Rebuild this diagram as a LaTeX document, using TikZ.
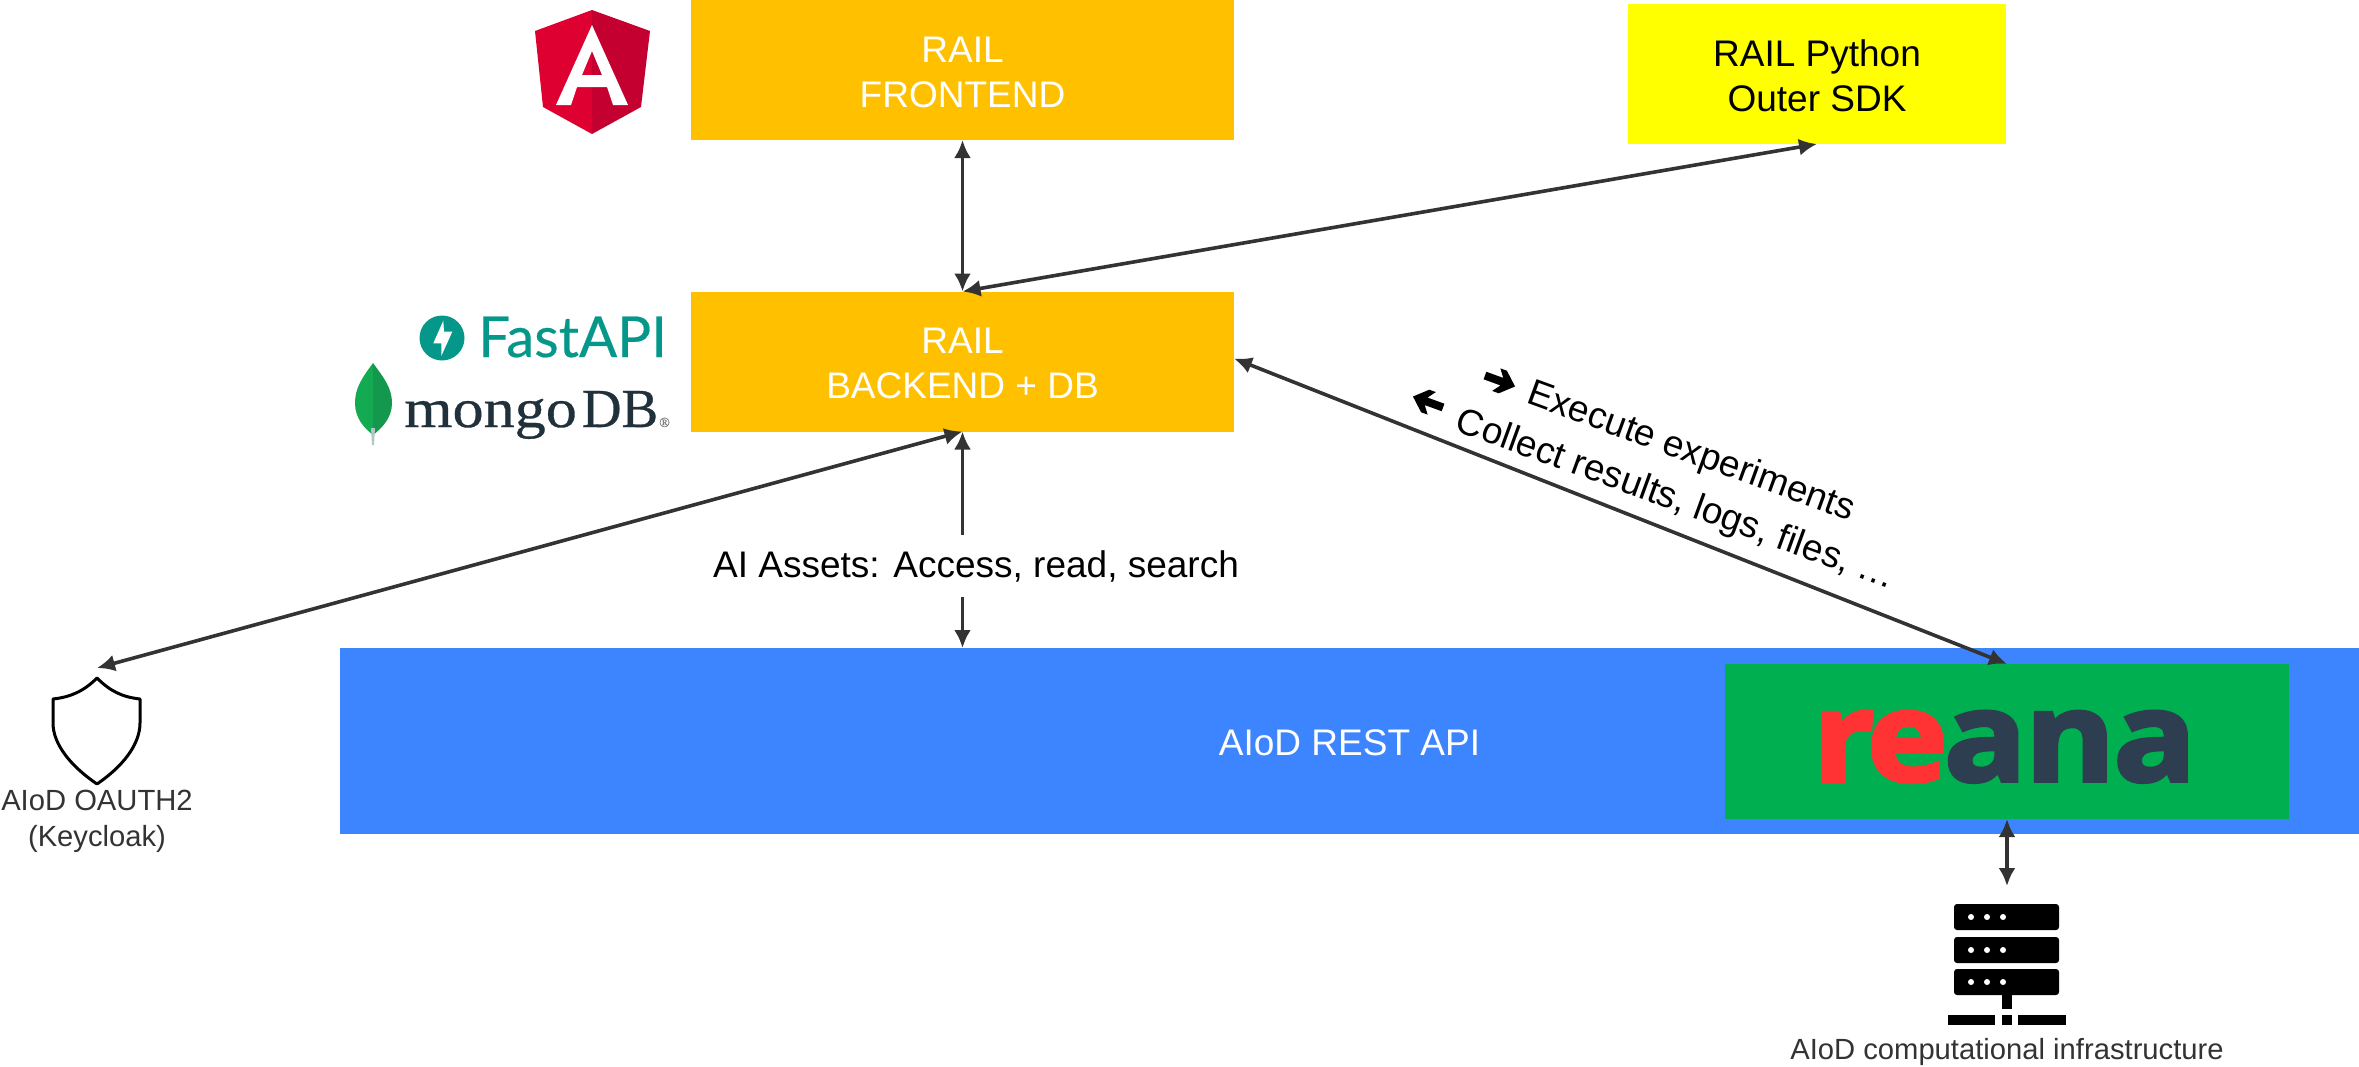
\documentclass[tikz,border=0pt]{standalone}
\usepackage{fontspec}
\setmainfont{Liberation Sans}
\newfontfamily\reanafont[FakeBold=3,FakeStretch=1.1]{Open Sans}
\newfontfamily\fastfont[FakeBold=0.4]{Lato}
\newfontfamily\mongofont[FakeBold=0.6]{Liberation Serif}
\newfontfamily\mongowide[FakeBold=0.6,FakeStretch=1.13]{Liberation Serif}
\usetikzlibrary{arrows.meta}
\definecolor{railorange}{HTML}{FFC000}
\definecolor{sdkyellow}{HTML}{FFFF00}
\definecolor{apiblue}{HTML}{3D85FF}
\definecolor{reanagreen}{HTML}{00AF50}
\definecolor{linegray}{HTML}{333333}
\definecolor{reanared}{HTML}{FF3333}
\definecolor{reanadark}{HTML}{2D3E50}
\definecolor{fastteal}{HTML}{05988A}
\definecolor{mongodark}{HTML}{21313C}
\newcommand{\dn}{\rule{0pt}{30pt}}
\tikzset{
  box/.style={rectangle,inner sep=0pt,outer sep=0pt,align=center,font=\fontsize{37}{45}\selectfont},
  orangebox/.style={box,fill=railorange,text=white,minimum width=543,minimum height=140},
  conn/.style={draw=linegray,line width=3.6pt,{Latex[length=18pt,width=17pt]}-{Latex[length=18pt,width=17pt]}},
  smalltext/.style={inner sep=0pt,align=center,text=linegray,font=\fontsize{29.2}{36}\selectfont},
  bigtext/.style={inner sep=0pt,align=center,text=black,font=\fontsize{37}{45}\selectfont},
  rack/.style={fill=black,rounded corners=3pt},
  hole/.style={fill=white}
}
\begin{document}
\begin{tikzpicture}[x=1pt,y=-1pt]
\useasboundingbox (0,0) rectangle (2359,1066);
% boxes
\node[orangebox] (frontend) at (962.5,70) {\dn RAIL\\FRONTEND};
\node[orangebox] (backend) at (962.5,361.5) {\dn RAIL\\BACKEND + DB};
\node[box,fill=sdkyellow,text=black,minimum width=378,minimum height=140] (sdk) at (1817,74) {\dn RAIL Python\\Outer SDK};
\node[box,fill=apiblue,text=white,minimum width=2019,minimum height=186] (api) at (1349.5,741) {\dn AIoD REST API};
\node[box,fill=reanagreen,minimum width=564,minimum height=155] (reana) at (2007,741.5) {};
% reana logo
\node[inner sep=0pt,anchor=base west,font=\reanafont\bfseries\fontsize{125}{125}\selectfont] (reanalogo) at (1812,781)
  {\textcolor{reanared}{r\kern-8pt e}\kern-4pt\textcolor{reanadark}{a\kern-2pt n\kern-2pt a}};
% connectors
\coordinate (shieldtop) at (97,668);
\coordinate (apitop) at (962.5,648);
\coordinate (infratop) at (2007,886);
\draw[conn] (frontend.south) -- (backend.north);
\draw[conn] (sdk.south) -- (backend.north);
\draw[conn] (backend.south) -- (shieldtop);
\draw[conn] (backend.south) -- (apitop);
\draw[conn] ([yshift=3pt]backend.east) -- (reana.north);
\draw[conn] (reana.south) -- (infratop);
% labels
\node[bigtext,fill=white,minimum height=62,minimum width=525] (assets) at (976,566) {AI Assets: Access, read, search};
\node[bigtext,rotate=-20] (exec) at (1691,453) {Execute experiments};
\node[bigtext,rotate=-20] (collect) at (1675.5,501) {Collect results, logs, files, …};
\fill[shift={(1500,381)},rotate=-20] (-16,-4) -- (2,-4) -- (-4,-12) -- (3,-12) -- (16,0) -- (3,12) -- (-4,12) -- (2,4) -- (-16,4) -- cycle;
\fill[shift={(1428,402)},rotate=-20] (16,-4) -- (-2,-4) -- (4,-12) -- (-3,-12) -- (-16,0) -- (-3,12) -- (4,12) -- (-2,4) -- (16,4) -- cycle;
\node[smalltext] (oauth) at (97,821.5) {AIoD OAUTH2\\(Keycloak)};
\node[smalltext] (infra) at (2007,1051.5) {AIoD computational infrastructure};
% shield
\draw[black,line width=3pt,line join=round,fill=white] (97,678) .. controls (110,691) and (122,697) .. (140,699)
  -- (140,723) .. controls (140,745) and (122,767) .. (97,784)
  .. controls (72,767) and (53,745) .. (53,723) -- (53,699) .. controls (71,697) and (84,691) .. (97,678) -- cycle;
% server icon
\fill[rack] (1954,904) rectangle (2059,930);
\fill[rack] (1954,937) rectangle (2059,963);
\fill[rack] (1954,969) rectangle (2059,995);
\foreach \yy in {917,950,982}{\foreach \xx in {1971,1987,2003}{\fill[hole] (\xx,\yy) circle (3pt);}}
\fill[black] (2001.5,995) rectangle (2011.5,1009);
\fill[black] (1948,1015) rectangle (1995,1025);
\fill[black] (2001.5,1015) rectangle (2011.5,1025);
\fill[black] (2018,1015) rectangle (2066,1025);
% angular
\fill[fill={rgb,255:red,221;green,0;blue,49}] (592,10) -- (535,31) -- (543,107) -- (592,134) -- cycle;
\fill[fill={rgb,255:red,195;green,0;blue,47}] (592,10) -- (650,31) -- (641,107) -- (592,134) -- cycle;
\fill[white,even odd rule] (592,25) -- (556,105) -- (571,105) -- (577,87) -- (607,87) -- (613,105) -- (628,105) -- cycle
  (592,51) -- (582,75) -- (602,75) -- cycle;
% fastapi
\fill[fastteal] (442,338) circle (22.5pt);
\fill[white] (443.3,320.7) -- (433.3,343.3) -- (441.3,343.3) -- (441.3,356) -- (452.3,331.7) -- (444,331.7) -- cycle;
\node[inner sep=0pt,anchor=base west,text=fastteal,font=\fastfont\fontsize{56.5}{56}\selectfont] (fastapi) at (478,357) {FastAPI};
% mongodb
\fill[fill={rgb,255:red,19;green,170;blue,82}] (373,363) .. controls (362,378) and (355,388) .. (355,403) .. controls (355,418) and (364,428) .. (373,435) -- cycle;
\fill[fill={rgb,255:red,19;green,152;blue,78}] (373,363) .. controls (384,378) and (392,388) .. (392,403) .. controls (392,418) and (382,428) .. (373,435) -- cycle;
\fill[fill={rgb,255:red,184;green,196;blue,194}] (371,428) -- (375,428) -- (374,445) -- (372,445) -- cycle;
\node[inner sep=0pt,anchor=base west,text=mongodark,font=\mongofont\fontsize{55}{55}\selectfont] (mongo) at (404,427) {{\mongowide mongo}\kern5pt DB\kern1pt\textcolor{gray}{\raisebox{0pt}{\fontsize{14}{14}\selectfont ®}}};
\end{tikzpicture}
\end{document}
